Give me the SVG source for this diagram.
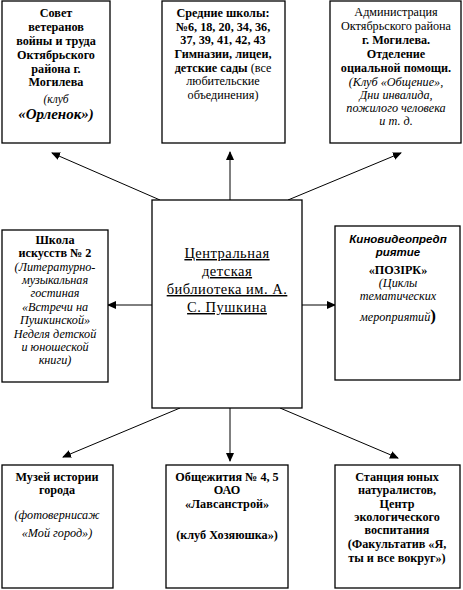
<svg xmlns="http://www.w3.org/2000/svg" width="463" height="590" viewBox="0 0 463 590">
<defs>
<marker id="ah" markerWidth="9" markerHeight="8" refX="8" refY="4" orient="auto" markerUnits="userSpaceOnUse">
<path d="M0,0 L9,4 L0,8 Z" fill="#000"/>
</marker>
</defs>
<style>
.box{fill:#fff;stroke:#000;stroke-width:1.3}
text{font-family:"Liberation Serif","Times New Roman",serif;font-size:12.2px;fill:#000;text-anchor:middle}
.b{font-weight:bold}
.i{font-style:italic}
.bi{font-weight:bold;font-style:italic}
.c{font-size:14.5px;text-decoration:underline;letter-spacing:0.5px}
.s{font-family:"Liberation Sans",Arial,sans-serif;font-weight:bold;font-style:italic;font-size:11.5px}
.con{stroke:#000;stroke-width:1;fill:none;marker-end:url(#ah)}
</style>
<rect width="463" height="590" fill="#fff"/>
<g id="connectors">
<line class="con" x1="160" y1="200" x2="52" y2="153"/>
<line class="con" x1="230" y1="200" x2="230" y2="152"/>
<line class="con" x1="288" y1="200" x2="401" y2="153"/>
<line class="con" x1="152" y1="305" x2="108" y2="305"/>
<line class="con" x1="302" y1="305" x2="335" y2="305"/>
<line class="con" x1="180" y1="408" x2="63" y2="457"/>
<line class="con" x1="230" y1="408" x2="230" y2="461"/>
<line class="con" x1="280" y1="408" x2="398" y2="458"/>
</g>
<g id="n-sovet">
<rect class="box" x="2" y="1" width="108" height="142"/>
<text class="b" x="56" y="17">Совет</text>
<text class="b" x="56" y="31">ветеранов</text>
<text class="b" x="56" y="45">войны и труда</text>
<text class="b" x="56" y="59">Октябрьского</text>
<text class="b" x="56" y="73">района г.</text>
<text class="b" x="56" y="86">Могилева</text>
<text class="i" x="56" y="103" style="font-size:11.5px">(клуб</text>
<text class="bi" x="56" y="119" style="font-size:15px">«Орленок»)</text>
</g>
<g id="n-schools">
<rect class="box" x="162" y="1" width="123" height="142"/>
<text class="b" x="223" y="17">Средние школы:</text>
<text class="b" x="223" y="31">№6, 18, 20, 34, 36,</text>
<text class="b" x="223" y="44">37, 39, 41, 42, 43</text>
<text class="b" x="223" y="58">Гимназии, лицеи,</text>
<text x="223" y="72"><tspan class="b">детские сады</tspan> (все</text>
<text x="223" y="85">любительские</text>
<text x="223" y="99">объединения)</text>
</g>
<g id="n-admin">
<rect class="box" x="330" y="1" width="131" height="142"/>
<text x="396" y="16">Администрация</text>
<text x="396" y="30">Октябрьского района</text>
<text class="b" x="396" y="44">г. Могилева.</text>
<text class="b" x="396" y="58">Отделение</text>
<text class="b" x="396" y="72">оциальной помощи.</text>
<text class="i" x="396" y="86">(Клуб «Общение»,</text>
<text class="i" x="396" y="99">Дни инвалида,</text>
<text class="i" x="396" y="112">пожилого человека</text>
<text class="i" x="396" y="125">и т. д.</text>
</g>
<g id="n-center">
<rect class="box" x="152" y="200" width="150" height="208"/>
<text class="c" x="227" y="258">Центральная</text>
<text class="c" x="227" y="276">детская</text>
<text class="c" x="227" y="294">библиотека им. А.</text>
<text class="c" x="227" y="312">С. Пушкина</text>
</g>
<g id="n-art">
<rect class="box" x="2" y="230" width="106" height="152"/>
<text class="b" x="55" y="244">Школа</text>
<text class="b" x="55" y="257">искусств № 2</text>
<text class="i" x="55" y="271">(Литературно-</text>
<text class="i" x="55" y="284">музыкальная</text>
<text class="i" x="55" y="297">гостиная</text>
<text class="i" x="55" y="311">«Встречи на</text>
<text class="i" x="55" y="324">Пушкинской»</text>
<text class="i" x="55" y="338">Неделя детской</text>
<text class="i" x="55" y="351">и юношеской</text>
<text class="i" x="55" y="364">книги)</text>
</g>
<g id="n-kino">
<rect class="box" x="335" y="226" width="125" height="154"/>
<text class="s" x="398" y="243">Киновидеопредп</text>
<text class="s" x="398" y="256">риятие</text>
<text class="b" x="398" y="274">«ПОЗІРК»</text>
<text class="i" x="398" y="287">(Циклы</text>
<text class="i" x="398" y="300">тематических</text>
<text class="i" x="398" y="321">мероприятий<tspan class="b" style="font-style:normal;font-size:17px">)</tspan></text>
</g>
<g id="n-museum">
<rect class="box" x="2" y="465" width="111" height="123"/>
<text class="b" x="57" y="481">Музей истории</text>
<text class="b" x="57" y="494">города</text>
<text class="i" x="57" y="519">(фотовернисаж</text>
<text class="i" x="57" y="537">«Мой город»)</text>
</g>
<g id="n-dorm">
<rect class="box" x="166" y="465" width="122" height="123"/>
<text class="b" x="227" y="481">Общежития № 4, 5</text>
<text class="b" x="227" y="494">ОАО</text>
<text class="b" x="227" y="508">«Лавсанстрой»</text>
<text class="b" x="227" y="539">(клуб Хозяюшка»)</text>
</g>
<g id="n-station">
<rect class="box" x="335" y="465" width="125" height="123"/>
<text class="b" x="397" y="481">Станция юных</text>
<text class="b" x="397" y="494">натуралистов,</text>
<text class="b" x="397" y="508">Центр</text>
<text class="b" x="397" y="521">экологического</text>
<text class="b" x="397" y="534">воспитания</text>
<text class="b" x="397" y="548">(Факультатив «Я,</text>
<text class="b" x="397" y="562">ты и все вокруг»)</text>
</g>
</svg>
